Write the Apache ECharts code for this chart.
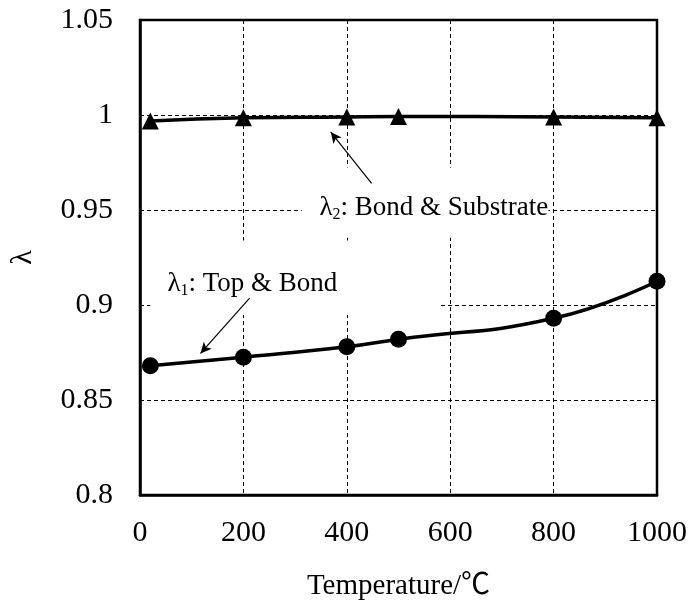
<!DOCTYPE html>
<html>
<head>
<meta charset="utf-8">
<script src="https://cdn.jsdelivr.net/npm/echarts@6/dist/echarts.min.js"></script>
<style>
  html, body { margin: 0; padding: 0; background: #fff; }
  #chart { width: 691px; height: 606px; }
</style>
</head>
<body>
<div id="chart"></div>
<script>
// Temperatures (°C) at which the ratios were evaluated
const temperatures = [20, 200, 400, 500, 800, 1000];
// λ1: Top & Bond
const lambda1 = [0.868, 0.8725, 0.878, 0.882, 0.893, 0.9125];
// λ2: Bond & Substrate
const lambda2 = [0.9968, 0.9985, 0.999, 0.9992, 0.999, 0.9985];
// Axis ticks
const xTicks = [0, 200, 400, 600, 800, 1000];
const yTicks = [0.8, 0.85, 0.9, 0.95, 1, 1.05];

const SERIF = "'Liberation Serif', 'Times New Roman', 'Noto Sans CJK SC', serif";

const chart = echarts.init(document.getElementById('chart'), null, { renderer: 'canvas' });

const pairs = (xs, ys) => xs.map((x, i) => [x, ys[i]]);

chart.setOption({
  animation: false,
  backgroundColor: '#fff',
  grid: {
    left: 137, right: 34, top: 20, bottom: 104,
    show: true, borderColor: '#000', borderWidth: 2.5, backgroundColor: 'transparent'
  },
  xAxis: {
    type: 'value',
    min: xTicks[0], max: xTicks[xTicks.length - 1], interval: 200,
    name: 'Temperature/℃',
    nameLocation: 'middle',
    nameGap: 77,
    nameTextStyle: { fontFamily: SERIF, fontSize: 29, color: '#000' },
    axisLine: { show: true, lineStyle: { color: '#000', width: 2.5 } },
    axisTick: { show: false },
    axisLabel: { fontFamily: SERIF, fontSize: 30, color: '#000', margin: 23, formatter: v => String(v) },
    splitLine: { show: true, lineStyle: { color: '#000', width: 1, type: [4, 3] } }
  },
  yAxis: {
    type: 'value',
    min: yTicks[0], max: yTicks[yTicks.length - 1], interval: 0.05,
    name: 'λ',
    nameLocation: 'middle',
    nameGap: 102,
    nameTextStyle: { fontFamily: SERIF, fontSize: 30, color: '#000' },
    axisLine: { show: true, lineStyle: { color: '#000', width: 2.5 } },
    axisTick: { show: false },
    axisLabel: {
      fontFamily: SERIF, fontSize: 30, color: '#000', margin: 27,
      formatter: v => String(+v.toFixed(2))
    },
    splitLine: { show: true, lineStyle: { color: '#000', width: 1, type: [4, 3] } }
  },
  series: [
    {
      name: 'λ1: Top & Bond',
      type: 'line',
      data: pairs(temperatures, lambda1),
      smooth: true,
      symbol: 'circle',
      symbolSize: 17,
      z: 3,
      itemStyle: { color: '#000' },
      lineStyle: { color: '#000', width: 3.5 },
      markLine: {
        silent: true,
        symbol: ['none', 'arrow'],
        symbolSize: [8, 11],
        label: { show: false },
        lineStyle: { color: '#000', width: 1.2, type: 'solid' },
        data: [[{ coord: [212, 0.9036] }, { coord: [117, 0.8745] }]]
      }
    },
    {
      name: 'λ2: Bond & Substrate',
      type: 'line',
      data: pairs(temperatures, lambda2),
      smooth: true,
      symbol: 'triangle',
      symbolSize: 17,
      z: 3,
      itemStyle: { color: '#000' },
      lineStyle: { color: '#000', width: 3.5 },
      markLine: {
        silent: true,
        symbol: ['none', 'arrow'],
        symbolSize: [8, 11],
        label: { show: false },
        lineStyle: { color: '#000', width: 1.2, type: 'solid' },
        data: [[{ coord: [448, 0.964] }, { coord: [369, 0.991] }]]
      }
    }
  ]
});

// Annotation text boxes (white background hides the grid beneath them)
const notes = [
  { box: [[313, 0.9724], [790, 0.9354]], at: [347, 0.951], main: 'λ', sub: '2', rest: ': Bond & Substrate' },
  { box: [[20, 0.9339], [579, 0.8948]], at: [53, 0.9111], main: 'λ', sub: '1', rest: ': Top & Bond' }
];

const toPx = (pt) => chart.convertToPixel({ gridIndex: 0 }, pt);
const graphics = [];
notes.forEach((n) => {
  const a = toPx(n.box[0]);
  const b = toPx(n.box[1]);
  graphics.push({
    type: 'rect', z: 2, silent: true,
    shape: { x: a[0], y: a[1], width: b[0] - a[0], height: b[1] - a[1] },
    style: { fill: '#fff' }
  });
  const t = toPx(n.at);
  graphics.push({
    type: 'text', z: 4, silent: true,
    x: t[0], y: t[1],
    style: {
      text: '{m|' + n.main + '}{s|' + n.sub + '}{m|' + n.rest + '}',
      verticalAlign: 'middle', align: 'left',
      rich: {
        m: { fontFamily: SERIF, fontSize: 27, color: '#000', lineHeight: 30 },
        s: { fontFamily: SERIF, fontSize: 16, color: '#000', lineHeight: 19, verticalAlign: 'bottom' }
      }
    }
  });
});
chart.setOption({ graphic: graphics });
</script>
</body>
</html>
